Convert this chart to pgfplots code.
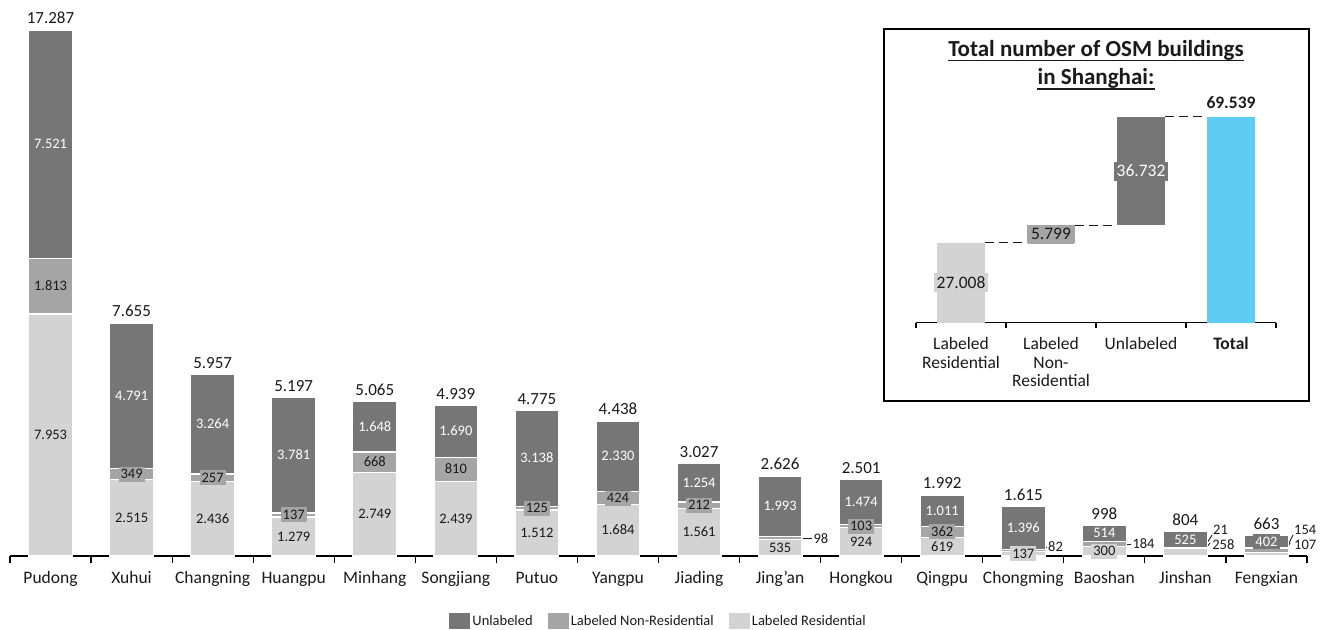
\documentclass[border=0pt]{standalone}
\usepackage{fontspec}
\setmainfont{Carlito}
\usepackage{pgfplots}
\usepackage{pgfplotstable}
\pgfplotsset{compat=1.18}

\definecolor{uC}{HTML}{767676}
\definecolor{nC}{HTML}{A5A5A5}
\definecolor{rC}{HTML}{D3D3D3}
\definecolor{tC}{HTML}{5DCDF3}
\definecolor{ink}{HTML}{1A1A1A}

\newcommand\catfont{\fontsize{17.5}{21}\selectfont}
\newcommand\segfont{\fontsize{14.5}{17}\selectfont}
\newcommand\totfont{\fontsize{17}{20}\selectfont}
\newcommand\legfont{\fontsize{14.5}{17}\selectfont}
\newcommand\wfont{\fontsize{17.5}{18.7}\selectfont}
\newcommand\titlefont{\fontsize{23}{27}\selectfont\bfseries}

\setlength{\fboxsep}{0pt}
\pgfkeys{/pgf/number format/.cd, fixed, precision=0, 1000 sep={.}, assume math mode=true}

% value boxes drawn in the segment colour
\newcommand\segbox[3]{\colorbox{#1}{\segfont\hspace{2pt}\color{#2}\rule[-3pt]{0pt}{15pt}\pgfmathprintnumber{#3}\hspace{2pt}}}
\newcommand\wbox[3]{\colorbox{#1}{\wfont\hspace{3pt}\color{#2}\rule[-4pt]{0pt}{19pt}\pgfmathprintnumber[precision=3,fixed zerofill]{#3}\hspace{3pt}}}

\pgfplotsset{
  % stacked segment with its value centred in the segment
  seg/.style n args={4}{% fill, text colour, box macro, value column
    fill=#1,
    point meta=explicit symbolic,
    visualization depends on={\thisrow{#4} \as \rawy},
    nodes near coords={\ifnum\pgfplotspointmeta=1\relax#3{#1}{#2}{\rawy}\fi},
    every node near coord/.style={anchor=center, inner sep=0pt},
  },
  frame/.style={
    at={(10pt,73pt)}, anchor=south west, scale only axis,
    width=1297pt, height=547.7pt,
    xmin=-0.5, xmax=15.5, ymin=0, ymax=18000,
  },
}
\tikzset{
  outlabel/.style={font=\segfont, text=ink, inner sep=0pt, anchor=west},
  leader/.style={ink, line width=0.9pt},
}

% buildings per district: residential, non-residential, unlabeled (flags: label inside)
\pgfplotstableread{
x  R    Rs N    Ns U    Us T
0  7953 1  1813 1  7521 1  17287
1  2515 1  349  1  4791 1  7655
2  2436 1  257  1  3264 1  5957
3  1279 1  137  1  3781 1  5197
4  2749 1  668  1  1648 1  5065
5  2439 1  810  1  1690 1  4939
6  1512 1  125  1  3138 1  4775
7  1684 1  424  1  2330 1  4438
8  1561 1  212  1  1254 1  3027
9  535  1  98   0  1993 1  2626
10 924  1  103  1  1474 1  2501
11 619  1  362  1  1011 1  1992
12 137  1  82   0  1396 1  1615
13 300  1  184  0  514  1  998
14 258  0  21   0  525  1  804
15 107  0  154  0  402  1  663
}\districts

% Shanghai totals in thousands (waterfall)
\pgfplotstableread{
x base   R      N     U      T      Rs Ns Us Ts
0 0      27.008 0     0      0      1  0  0  0
1 27.008 0      5.799 0      0      0  1  0  0
2 32.807 0      0     36.732 0      0  0  1  0
3 0      0      0     0      69.539 0  0  0  1
}\overall

\begin{document}
\begin{tikzpicture}
\useasboundingbox (0,0) rectangle (1322pt,629pt);

\begin{axis}[
  frame,
  ybar stacked, bar width=0.54,
  axis x line*=bottom, hide y axis,
  x axis line style={-, line width=1.2pt, black},
  xtick={0,...,15},
  xticklabels={Pudong,Xuhui,Changning,Huangpu,Minhang,Songjiang,Putuo,Yangpu,Jiading,Jing’an,Hongkou,Qingpu,Chongming,Baoshan,Jinshan,Fengxian},
  typeset ticklabels with strut,
  xticklabel style={font=\catfont, inner sep=0pt, yshift=-12.6pt, text=ink},
  major tick length=0pt,
  minor xtick={-0.5,0.5,...,15.5},
  minor tick length=7pt, tick align=outside,
  minor x tick style={black, line width=1.2pt},
  clip=false,
  reverse legend,
  legend style={at={(0.5,-0.1187)}, anchor=center, draw=none, fill=none,
    legend columns=3, font=\legfont, text=ink,
    /tikz/every even column/.append style={column sep=13pt}},
]
\addplot[seg={rC}{ink}{\segbox}{R}, draw=white, line width=1.2pt,
  legend image code/.code={\fill[rC] (0pt,-7pt) rectangle (20pt,7pt);}]
  table[x=x,y=R,meta=Rs]{\districts};
\addlegendentry{Labeled Residential}
\addplot[seg={nC}{ink}{\segbox}{N}, draw=white, line width=1.2pt,
  legend image code/.code={\fill[nC] (0pt,-7pt) rectangle (20pt,7pt);}]
  table[x=x,y=N,meta=Ns]{\districts};
\addlegendentry{Labeled Non-Residential}
\addplot[seg={uC}{white}{\segbox}{U}, draw=white, line width=1.2pt,
  legend image code/.code={\fill[uC] (0pt,-7pt) rectangle (20pt,7pt);}]
  table[x=x,y=U,meta=Us]{\districts};
\addlegendentry{Unlabeled}

% small segments labelled beside the bar
\draw[leader] (axis cs:9.28,575) -- (axis cs:9.39,575);
\node[outlabel] at (axis cs:9.41,575) {98};
\draw[leader] (axis cs:12.19,164) -- (axis cs:12.29,296);
\node[outlabel] at (axis cs:12.305,312) {82};
\draw[leader] (axis cs:13.28,392) -- (axis cs:13.33,392);
\node[outlabel] at (axis cs:13.345,392) {184};
\draw[leader] (axis cs:14.205,99) -- (axis cs:14.304,427);
\node[outlabel] at (axis cs:14.33,361) {258};
\draw[leader] (axis cs:14.242,329) -- (axis cs:14.329,690);
\node[outlabel] at (axis cs:14.34,854) {21};
\draw[leader] (axis cs:15.217,99) -- (axis cs:15.291,427);
\node[outlabel] at (axis cs:15.34,361) {107};
\draw[leader] (axis cs:15.254,296) -- (axis cs:15.328,690);
\node[outlabel] at (axis cs:15.34,854) {154};
\end{axis}

% district totals above each stack
\begin{axis}[frame, hide axis, ybar, bar width=0.54, clip=false]
\addplot[draw=none, fill=none, nodes near coords,
  every node near coord/.style={anchor=base, inner sep=0pt, yshift=6.5pt, font=\totfont, text=ink}]
  table[x=x,y=T]{\districts};
\end{axis}

% inset: waterfall of all buildings
\draw[line width=1.3pt, black] (884pt,600pt) rectangle (1309pt,228pt);
\node[anchor=base, inner sep=0pt, font=\titlefont, text=ink] (t1) at (1096pt,572pt) {Total number of OSM buildings};
\draw[line width=1.4pt, ink] ([yshift=-3.7pt]t1.base west) -- ([yshift=-3.7pt]t1.base east);
\node[anchor=base, inner sep=0pt, font=\titlefont, text=ink] (t2) at (1096pt,544pt) {in Shanghai:};
\draw[line width=1.4pt, ink] ([yshift=-4pt]t2.base west) -- ([yshift=-4pt]t2.base east);

\begin{axis}[
  at={(916pt,306.3pt)}, anchor=south west, scale only axis,
  width=360pt, height=222.2pt,
  xmin=-0.5, xmax=3.5, ymin=0, ymax=75,
  ybar stacked, bar width=0.533,
  axis x line*=bottom, hide y axis,
  x axis line style={-, line width=1.2pt, black},
  xtick={0,1,2,3},
  xticklabels={{Labeled\\Residential},{Labeled\\Non-\\Residential},Unlabeled,\textbf{Total}},
  typeset ticklabels with strut,
  xticklabel style={align=center, font=\wfont, inner sep=0pt, yshift=-13.5pt, text=ink},
  major tick length=0pt,
  minor xtick={-0.5,0.5,1.5,2.5,3.5}, minor tick length=5pt, tick align=outside,
  minor x tick style={black, line width=1.2pt},
  clip=false,
]
\addplot[draw=none, fill=none] table[x=x,y=base]{\overall};
\addplot[seg={rC}{ink}{\wbox}{R}, draw=none] table[x=x,y=R,meta=Rs]{\overall};
\addplot[seg={nC}{ink}{\wbox}{N}, draw=none] table[x=x,y=N,meta=Ns]{\overall};
\addplot[seg={uC}{white}{\wbox}{U}, draw=none] table[x=x,y=U,meta=Us]{\overall};
\addplot[fill=tC, draw=none, point meta=explicit symbolic,
  visualization depends on={\thisrow{T} \as \rawy},
  nodes near coords={\ifnum\pgfplotspointmeta=1\relax\textbf{\pgfmathprintnumber[precision=3,fixed zerofill]{\rawy}}\fi},
  every node near coord/.style={anchor=base, inner sep=0pt, shift={(axis direction cs:0,\rawy/2)}, yshift=7.7pt, font=\wfont, text=ink}]
  table[x=x,y=T,meta=Ts]{\overall};
\draw[dash pattern=on 9pt off 5pt, line width=1.5pt, ink] (axis cs:0.2667,27.008) -- (axis cs:0.7333,27.008);
\draw[dash pattern=on 9pt off 5pt, line width=1.5pt, ink] (axis cs:1.2667,32.807) -- (axis cs:1.7333,32.807);
\draw[dash pattern=on 9pt off 5pt, line width=1.5pt, ink] (axis cs:2.2667,69.539) -- (axis cs:2.7333,69.539);
\end{axis}
\end{tikzpicture}
\end{document}
